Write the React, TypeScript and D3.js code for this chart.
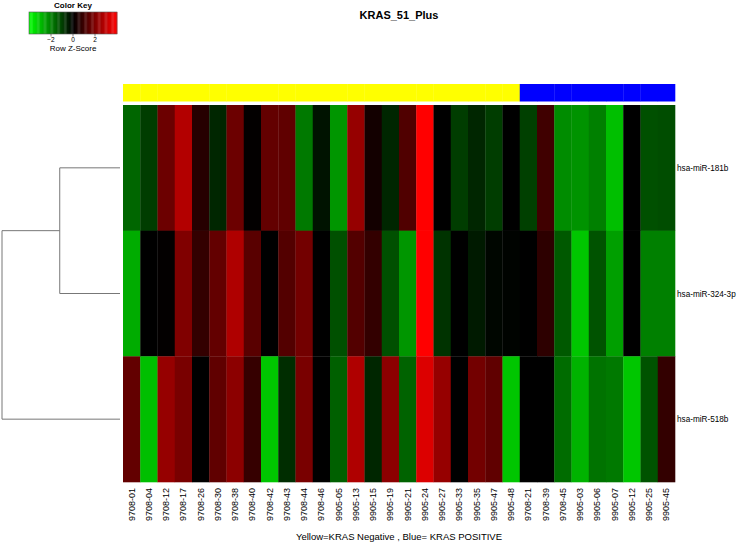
import React, { useEffect, useRef } from "react";
import * as d3 from "d3";

const samples = [
  "9708-01", "9708-04", "9708-12", "9708-17", "9708-26", "9708-30", "9708-38", "9708-40",
  "9708-42", "9708-43", "9708-44", "9708-46", "9905-05", "9905-13", "9905-15", "9905-19",
  "9905-21", "9905-24", "9905-27", "9905-33", "9905-35", "9905-47", "9905-48", "9708-21",
  "9708-39", "9708-45", "9905-03", "9905-06", "9905-07", "9905-12", "9905-25", "9905-45"
];

// 0 = KRAS negative (yellow), 1 = KRAS positive (blue)
const groups = [
  0, 0, 0, 0, 0, 0, 0, 0, 0, 0, 0, 0, 0, 0, 0, 0, 0, 0, 0, 0, 0, 0, 0,
  1, 1, 1, 1, 1, 1, 1, 1, 1
];

const genes = ["hsa-miR-181b", "hsa-miR-324-3p", "hsa-miR-518b"];

// row z-scores
const z181b = [
  -1.6, -0.95, 1.7, 2.8, 0.6, -0.6, 1.7, 0.05, 1.55, 1.5, -1.9, -0.3, -2.35, 2.35, 0.3, -0.6,
  1.25, 4.0, 0.0, -0.95, -0.6, -0.95, 0.0, -1.0, 1.0, -2.2, -2.3, -2.0, -3.0, 0.0, -1.25, -1.2
];
const z324 = [
  -2.7, 0.0, 0.05, 2.0, 0.8, 1.55, 2.75, 1.4, 0.0, 1.3, 1.8, 0.0, -1.25, 1.3, 0.8, -1.25,
  -2.35, 4.0, -0.8, 0.0, -0.4, -0.1, -0.05, 0.0, 0.7, -1.4, -3.1, -1.3, -2.5, 0.0, -2.0, -2.0
];
const z518b = [
  1.55, -3.0, 2.35, 1.9, 0.0, 1.5, 2.2, 0.85, -3.1, -0.7, 1.9, 0.0, -1.5, 2.75, -0.6, 2.2,
  -1.55, 3.45, 2.35, 0.0, 1.8, 1.5, -3.1, 0.0, 0.0, -1.7, -2.8, -1.8, -1.9, -3.1, -1.3, 0.8
];
const values = [z181b, z324, z518b];

// row dendrogram: 181b + 324-3p merge first, then 518b
const mergeHeights = [2.4, 4.7];
const keyTicks = [-2, 0, 2];

const W = 739;
const H = 542;
const font = "'Liberation Sans', Arial, Helvetica, sans-serif";

function App() {
  const ref = useRef<SVGSVGElement | null>(null);

  useEffect(() => {
    const svg = d3.select(ref.current);
    svg.selectAll("*").remove();

    const x = d3.scaleBand().domain(samples).range([123, 675]);
    const y = d3.scaleBand().domain(genes).range([105, 482]);
    const color = d3
      .scaleLinear<string>()
      .domain([-4, 0, 4])
      .range(["#00ff00", "#000000", "#ff0000"])
      .clamp(true);

    // title
    svg.append("text")
      .attr("x", 399).attr("y", 19)
      .attr("text-anchor", "middle")
      .attr("font-family", font).attr("font-size", 11).attr("font-weight", "bold")
      .text("KRAS_51_Plus");

    // side colour bar
    svg.append("g").selectAll("rect")
      .data(samples)
      .enter().append("rect")
      .attr("x", d => x(d)!)
      .attr("y", 84)
      .attr("width", x.bandwidth() + 0.3)
      .attr("height", 17.5)
      .attr("fill", (d, i) => (groups[i] === 0 ? "#ffff00" : "#0000ff"));

    // heatmap cells
    const rows = svg.append("g").selectAll("g")
      .data(genes)
      .enter().append("g");
    rows.selectAll("rect")
      .data((g, r) => values[r].map((v, c) => ({ g, s: samples[c], v })))
      .enter().append("rect")
      .attr("x", d => x(d.s)!)
      .attr("y", d => y(d.g)!)
      .attr("width", x.bandwidth() + 0.3)
      .attr("height", y.bandwidth() + 0.3)
      .attr("fill", d => color(d.v));

    // row labels
    svg.append("g").selectAll("text")
      .data(genes)
      .enter().append("text")
      .attr("x", 677)
      .attr("y", d => y(d)! + y.bandwidth() / 2 + 3)
      .attr("font-family", font).attr("font-size", 8.2)
      .text(d => d);

    // column labels
    svg.append("g").selectAll("text")
      .data(samples)
      .enter().append("text")
      .attr("transform", d => `translate(${x(d)! + x.bandwidth() / 2 + 3},488) rotate(-90)`)
      .attr("text-anchor", "end")
      .attr("font-family", font).attr("font-size", 9)
      .text(d => d);

    svg.append("text")
      .attr("x", 399).attr("y", 540)
      .attr("text-anchor", "middle")
      .attr("font-family", font).attr("font-size", 9.5)
      .text("Yellow=KRAS Negative , Blue= KRAS POSITIVE");

    // row dendrogram
    const dx = d3.scaleLinear().domain([0, mergeHeights[1]]).range([120, 2]);
    const yc = (g: string) => y(g)! + y.bandwidth() / 2;
    const m1y = (yc(genes[0]) + yc(genes[1])) / 2;
    const dend = svg.append("g")
      .attr("fill", "none").attr("stroke", "#777").attr("stroke-width", 1);
    const seg = (pts: [number, number][]) =>
      dend.append("path").attr("d", d3.line()(pts));
    seg([[dx(0), yc(genes[0])], [dx(mergeHeights[0]), yc(genes[0])], [dx(mergeHeights[0]), yc(genes[1])], [dx(0), yc(genes[1])]]);
    seg([[dx(mergeHeights[0]), m1y], [dx(mergeHeights[1]), m1y], [dx(mergeHeights[1]), yc(genes[2])], [dx(0), yc(genes[2])]]);

    // colour key
    const kx = d3.scaleLinear().domain([-4, 4]).range([29, 117]);
    const key = svg.append("g");
    key.append("text")
      .attr("x", 73).attr("y", 8)
      .attr("text-anchor", "middle")
      .attr("font-family", font).attr("font-size", 8).attr("font-weight", "bold")
      .text("Color Key");
    const steps = d3.range(-4, 4, 8 / 75);
    key.selectAll("rect.k")
      .data(steps)
      .enter().append("rect")
      .attr("class", "k")
      .attr("x", d => kx(d))
      .attr("y", 12)
      .attr("width", kx(8 / 75) - kx(0) + 0.3)
      .attr("height", 22)
      .attr("fill", d => color(d + 4 / 75));
    key.append("rect")
      .attr("x", 29).attr("y", 12).attr("width", 88).attr("height", 22)
      .attr("fill", "none").attr("stroke", "#555").attr("stroke-width", 0.6);
    key.selectAll("line.t")
      .data(keyTicks)
      .enter().append("line")
      .attr("class", "t")
      .attr("x1", d => kx(d)).attr("x2", d => kx(d))
      .attr("y1", 34).attr("y2", 36.5)
      .attr("stroke", "#333").attr("stroke-width", 0.6);
    key.selectAll("text.t")
      .data(keyTicks)
      .enter().append("text")
      .attr("class", "t")
      .attr("x", d => kx(d)).attr("y", 42)
      .attr("text-anchor", "middle")
      .attr("font-family", font).attr("font-size", 6.5)
      .text(d => (d < 0 ? "\u2212" + Math.abs(d) : String(d)));
    key.append("text")
      .attr("x", 73).attr("y", 51)
      .attr("text-anchor", "middle")
      .attr("font-family", font).attr("font-size", 8)
      .text("Row Z-Score");
  }, []);

  return (
    <svg
      ref={ref}
      width={W}
      height={H}
      style={{ position: "absolute", left: 0, top: 0, background: "#fff" }}
    />
  );
}

export default App;
